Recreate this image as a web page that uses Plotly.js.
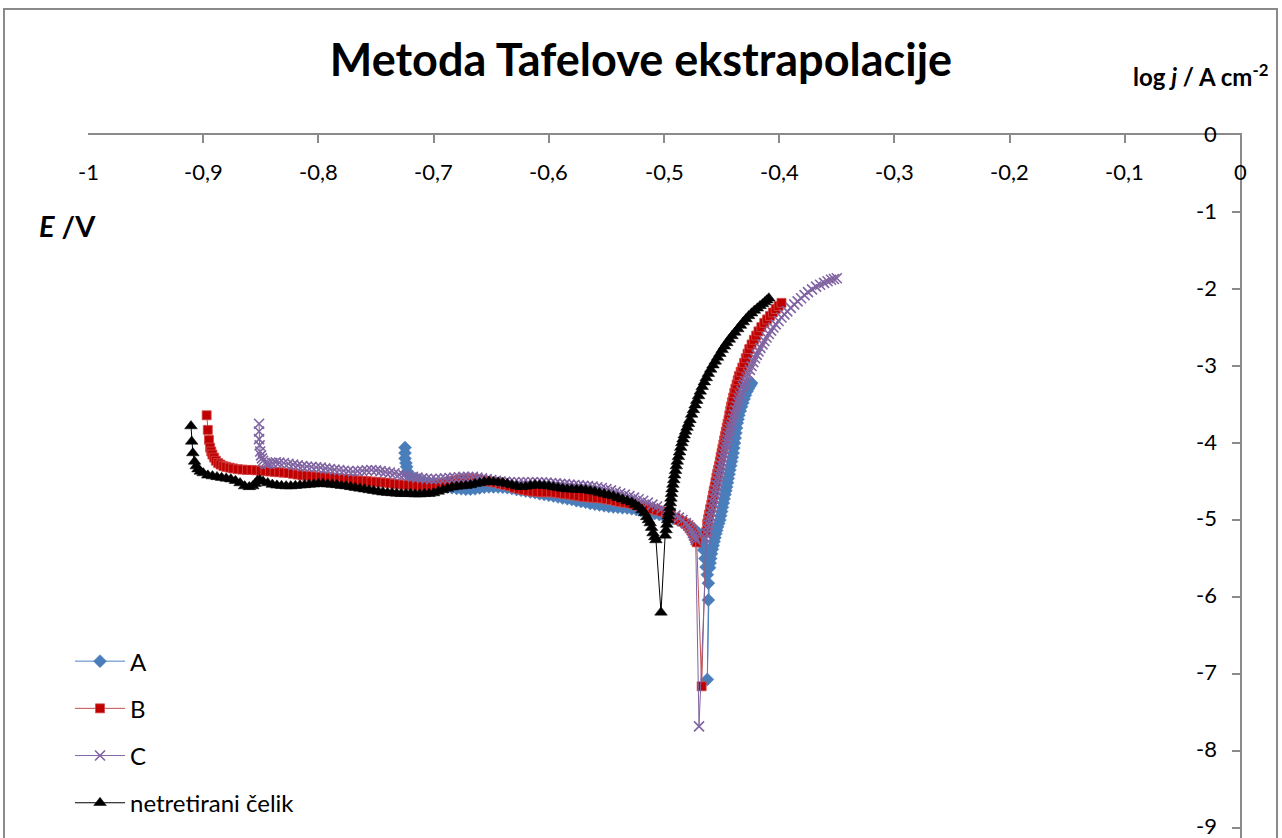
<!DOCTYPE html>
<html>
<head>
<meta charset="utf-8">
<script src="https://cdn.plot.ly/plotly-3.0.1.min.js"></script>
<style>
  html, body { margin: 0; padding: 0; background: #fff; overflow: hidden; }
  #wrap { position: relative; width: 1282px; height: 838px; }
  #chart { width: 1282px; height: 838px; }
  #frame { position: absolute; left: 3px; top: 8px; width: 1271px; height: 900px;
           border: 2px solid #8a8a8a; pointer-events: none; }
</style>
</head>
<body>
<div id="wrap"><div id="chart"></div><div id="frame"></div></div>
<script>
// ---- data: E / V (x) and log j / A cm-2 (y) ----
const seriesNames = ["A", "B", "C", "netretirani čelik"];

const aE = [-0.7248,-0.7248,-0.7248,-0.7240,-0.7234,-0.7228,-0.7222,-0.720,-0.716,-0.712,-0.708,-0.704,-0.700,-0.696,-0.692,-0.688,-0.684,-0.680,-0.676,-0.672,-0.668,-0.664,-0.660,-0.656,-0.652,-0.648,-0.644,-0.640,-0.636,-0.632,-0.628,-0.624,-0.620,-0.616,-0.612,-0.608,-0.604,-0.600,-0.596,-0.592,-0.588,-0.584,-0.580,-0.576,-0.572,-0.568,-0.564,-0.560,-0.556,-0.552,-0.548,-0.544,-0.540,-0.536,-0.532,-0.528,-0.524,-0.520,-0.516,-0.512,-0.508,-0.504,-0.500,-0.496,-0.492,-0.488,-0.485,-0.482,-0.479,-0.4755,-0.473,-0.4715,-0.470,-0.468,-0.4665,-0.4660,-0.4655,-0.4645,-0.4635,-0.4624,-0.4615,-0.4615,-0.4624,-0.4605,-0.4600,-0.4595,-0.4588,-0.4580,-0.4573,-0.4565,-0.4558,-0.455,-0.4543,-0.4535,-0.4525,-0.4515,-0.4508,-0.4500,-0.4493,-0.4485,-0.4478,-0.4470,-0.4463,-0.4456,-0.4449,-0.4442,-0.4435,-0.4428,-0.4421,-0.4414,-0.4407,-0.4400,-0.4394,-0.4388,-0.4382,-0.4376,-0.4370,-0.4364,-0.4357,-0.4350,-0.4338,-0.4327,-0.4316,-0.4305,-0.4293,-0.428,-0.4268,-0.4255,-0.4248,-0.424];
const aJ = [-4.06,-4.13,-4.20,-4.26,-4.31,-4.37,-4.41,-4.43,-4.46,-4.48,-4.50,-4.52,-4.535,-4.55,-4.56,-4.57,-4.58,-4.59,-4.595,-4.60,-4.60,-4.595,-4.585,-4.575,-4.57,-4.57,-4.57,-4.575,-4.58,-4.59,-4.605,-4.615,-4.625,-4.635,-4.645,-4.66,-4.67,-4.68,-4.69,-4.70,-4.715,-4.725,-4.735,-4.75,-4.76,-4.77,-4.785,-4.795,-4.805,-4.815,-4.825,-4.83,-4.835,-4.84,-4.845,-4.855,-4.865,-4.875,-4.89,-4.90,-4.915,-4.93,-4.95,-4.965,-4.98,-5.00,-5.02,-5.04,-5.065,-5.10,-5.13,-5.155,-5.18,-5.23,-5.28,-5.33,-5.39,-5.50,-5.61,-5.71,-5.82,-6.04,-7.07,-5.62,-5.56,-5.50,-5.44,-5.38,-5.33,-5.28,-5.23,-5.18,-5.135,-5.09,-5.045,-5.00,-4.945,-4.89,-4.835,-4.78,-4.725,-4.67,-4.62,-4.57,-4.515,-4.46,-4.405,-4.35,-4.295,-4.24,-4.185,-4.13,-4.065,-4.00,-3.935,-3.87,-3.805,-3.74,-3.69,-3.64,-3.585,-3.53,-3.48,-3.43,-3.38,-3.33,-3.295,-3.26,-3.24,-3.22];

const bE = [-0.897,-0.896,-0.895,-0.894,-0.893,-0.892,-0.8905,-0.889,-0.887,-0.885,-0.8825,-0.880,-0.877,-0.874,-0.870,-0.866,-0.862,-0.858,-0.854,-0.850,-0.846,-0.842,-0.838,-0.834,-0.830,-0.826,-0.822,-0.818,-0.814,-0.810,-0.806,-0.802,-0.798,-0.794,-0.790,-0.786,-0.782,-0.778,-0.774,-0.770,-0.766,-0.762,-0.758,-0.754,-0.750,-0.746,-0.742,-0.738,-0.734,-0.730,-0.726,-0.722,-0.718,-0.714,-0.710,-0.706,-0.702,-0.698,-0.694,-0.690,-0.686,-0.682,-0.678,-0.674,-0.670,-0.666,-0.662,-0.658,-0.654,-0.650,-0.646,-0.642,-0.638,-0.634,-0.630,-0.626,-0.622,-0.618,-0.614,-0.610,-0.606,-0.602,-0.598,-0.594,-0.590,-0.586,-0.582,-0.578,-0.574,-0.570,-0.566,-0.562,-0.558,-0.554,-0.550,-0.546,-0.542,-0.538,-0.534,-0.530,-0.526,-0.522,-0.518,-0.514,-0.510,-0.506,-0.502,-0.498,-0.494,-0.490,-0.487,-0.484,-0.481,-0.479,-0.4775,-0.476,-0.4748,-0.4735,-0.4725,-0.4716,-0.4673,-0.4635,-0.4625,-0.4617,-0.461,-0.460,-0.459,-0.4583,-0.4575,-0.4568,-0.456,-0.4553,-0.4545,-0.4538,-0.453,-0.4523,-0.4515,-0.4508,-0.450,-0.4493,-0.4485,-0.4478,-0.447,-0.4463,-0.4455,-0.4448,-0.444,-0.4433,-0.4425,-0.4418,-0.441,-0.440,-0.439,-0.438,-0.437,-0.436,-0.435,-0.4335,-0.432,-0.4305,-0.429,-0.4275,-0.426,-0.424,-0.422,-0.420,-0.418,-0.4155,-0.413,-0.4105,-0.408,-0.4055,-0.403,-0.4005,-0.398];
const bJ = [-3.64,-3.83,-3.96,-4.06,-4.11,-4.15,-4.19,-4.23,-4.26,-4.28,-4.30,-4.31,-4.32,-4.33,-4.34,-4.345,-4.35,-4.35,-4.355,-4.36,-4.365,-4.37,-4.375,-4.38,-4.385,-4.39,-4.40,-4.41,-4.42,-4.425,-4.43,-4.435,-4.44,-4.445,-4.45,-4.455,-4.46,-4.465,-4.47,-4.48,-4.485,-4.49,-4.495,-4.50,-4.505,-4.51,-4.515,-4.52,-4.53,-4.535,-4.54,-4.545,-4.55,-4.555,-4.56,-4.56,-4.555,-4.55,-4.53,-4.52,-4.50,-4.49,-4.48,-4.47,-4.47,-4.47,-4.475,-4.485,-4.495,-4.505,-4.515,-4.53,-4.545,-4.56,-4.58,-4.595,-4.61,-4.62,-4.63,-4.635,-4.64,-4.64,-4.64,-4.645,-4.655,-4.665,-4.67,-4.68,-4.69,-4.70,-4.705,-4.71,-4.715,-4.72,-4.73,-4.74,-4.755,-4.765,-4.775,-4.785,-4.80,-4.815,-4.83,-4.845,-4.86,-4.875,-4.89,-4.91,-4.94,-4.97,-5.00,-5.02,-5.05,-5.08,-5.11,-5.14,-5.175,-5.21,-5.25,-5.29,-7.16,-5.16,-5.05,-4.99,-4.93,-4.86,-4.80,-4.74,-4.68,-4.62,-4.57,-4.51,-4.45,-4.40,-4.35,-4.30,-4.24,-4.18,-4.13,-4.075,-4.02,-3.965,-3.91,-3.855,-3.80,-3.75,-3.70,-3.64,-3.58,-3.525,-3.47,-3.41,-3.35,-3.295,-3.24,-3.185,-3.13,-3.075,-3.02,-2.96,-2.90,-2.84,-2.78,-2.72,-2.66,-2.605,-2.55,-2.495,-2.44,-2.395,-2.35,-2.305,-2.26,-2.22,-2.18];

const cE = [-0.8515,-0.8515,-0.8515,-0.851,-0.8505,-0.8498,-0.849,-0.848,-0.8465,-0.845,-0.843,-0.840,-0.837,-0.834,-0.830,-0.826,-0.822,-0.818,-0.814,-0.810,-0.806,-0.802,-0.798,-0.794,-0.790,-0.786,-0.782,-0.778,-0.774,-0.770,-0.766,-0.762,-0.758,-0.754,-0.750,-0.746,-0.742,-0.738,-0.734,-0.730,-0.726,-0.722,-0.718,-0.714,-0.710,-0.706,-0.702,-0.698,-0.694,-0.690,-0.686,-0.682,-0.678,-0.674,-0.670,-0.666,-0.662,-0.658,-0.654,-0.650,-0.646,-0.642,-0.638,-0.634,-0.630,-0.626,-0.622,-0.618,-0.614,-0.610,-0.606,-0.602,-0.598,-0.594,-0.590,-0.586,-0.582,-0.578,-0.574,-0.570,-0.566,-0.562,-0.558,-0.554,-0.550,-0.546,-0.542,-0.538,-0.534,-0.530,-0.526,-0.522,-0.518,-0.514,-0.510,-0.506,-0.502,-0.498,-0.494,-0.490,-0.487,-0.484,-0.481,-0.479,-0.4775,-0.476,-0.475,-0.474,-0.473,-0.4725,-0.4696,-0.4635,-0.4628,-0.462,-0.4612,-0.4605,-0.4596,-0.4587,-0.4578,-0.457,-0.4562,-0.4555,-0.4548,-0.454,-0.4532,-0.4525,-0.4518,-0.451,-0.4502,-0.4495,-0.4488,-0.448,-0.4472,-0.4465,-0.4458,-0.445,-0.4442,-0.4435,-0.4428,-0.442,-0.441,-0.440,-0.439,-0.438,-0.437,-0.436,-0.435,-0.434,-0.4328,-0.4315,-0.4305,-0.4295,-0.4283,-0.427,-0.4255,-0.424,-0.4225,-0.421,-0.4195,-0.418,-0.4163,-0.4145,-0.4128,-0.411,-0.409,-0.407,-0.405,-0.403,-0.4005,-0.398,-0.3955,-0.393,-0.390,-0.387,-0.384,-0.381,-0.378,-0.375,-0.3715,-0.368,-0.3645,-0.361,-0.358,-0.355,-0.3525,-0.350];
const cJ = [-3.75,-3.85,-3.95,-4.03,-4.11,-4.16,-4.20,-4.23,-4.26,-4.27,-4.27,-4.26,-4.25,-4.255,-4.26,-4.27,-4.28,-4.29,-4.30,-4.305,-4.31,-4.315,-4.32,-4.33,-4.34,-4.345,-4.35,-4.36,-4.365,-4.37,-4.365,-4.36,-4.355,-4.35,-4.355,-4.365,-4.375,-4.385,-4.395,-4.41,-4.42,-4.43,-4.44,-4.45,-4.46,-4.465,-4.47,-4.47,-4.465,-4.46,-4.455,-4.45,-4.445,-4.44,-4.44,-4.44,-4.45,-4.46,-4.47,-4.48,-4.49,-4.50,-4.505,-4.51,-4.51,-4.51,-4.51,-4.51,-4.51,-4.51,-4.51,-4.515,-4.52,-4.525,-4.53,-4.535,-4.54,-4.545,-4.55,-4.555,-4.56,-4.565,-4.575,-4.585,-4.60,-4.615,-4.635,-4.655,-4.67,-4.69,-4.71,-4.73,-4.75,-4.775,-4.80,-4.825,-4.85,-4.88,-4.91,-4.94,-4.97,-5.00,-5.04,-5.07,-5.10,-5.13,-5.165,-5.20,-5.23,-5.26,-7.68,-5.24,-5.18,-5.12,-5.065,-5.01,-4.955,-4.90,-4.84,-4.78,-4.72,-4.66,-4.605,-4.55,-4.495,-4.44,-4.39,-4.34,-4.29,-4.24,-4.19,-4.14,-4.09,-4.04,-3.995,-3.95,-3.905,-3.86,-3.82,-3.78,-3.73,-3.68,-3.625,-3.57,-3.52,-3.47,-3.425,-3.38,-3.325,-3.27,-3.235,-3.20,-3.15,-3.10,-3.05,-3.00,-2.95,-2.90,-2.855,-2.81,-2.765,-2.72,-2.675,-2.63,-2.585,-2.54,-2.50,-2.46,-2.415,-2.37,-2.33,-2.29,-2.245,-2.20,-2.16,-2.12,-2.08,-2.04,-2.005,-1.97,-1.945,-1.92,-1.90,-1.88,-1.87,-1.86];

const sE = [-0.9106,-0.9100,-0.9090,-0.9075,-0.9060,-0.9045,-0.9025,-0.900,-0.896,-0.892,-0.888,-0.884,-0.880,-0.876,-0.872,-0.868,-0.864,-0.860,-0.857,-0.855,-0.853,-0.851,-0.848,-0.844,-0.840,-0.836,-0.832,-0.828,-0.824,-0.820,-0.816,-0.812,-0.808,-0.804,-0.800,-0.796,-0.792,-0.788,-0.784,-0.780,-0.776,-0.772,-0.768,-0.764,-0.760,-0.756,-0.752,-0.748,-0.744,-0.740,-0.736,-0.732,-0.728,-0.724,-0.720,-0.716,-0.712,-0.708,-0.704,-0.700,-0.696,-0.692,-0.688,-0.684,-0.680,-0.676,-0.672,-0.668,-0.664,-0.660,-0.656,-0.652,-0.648,-0.644,-0.640,-0.636,-0.632,-0.628,-0.624,-0.620,-0.616,-0.612,-0.608,-0.604,-0.600,-0.596,-0.592,-0.588,-0.584,-0.580,-0.576,-0.572,-0.568,-0.564,-0.560,-0.556,-0.552,-0.548,-0.544,-0.540,-0.536,-0.532,-0.528,-0.525,-0.522,-0.519,-0.517,-0.515,-0.5135,-0.512,-0.5108,-0.5095,-0.508,-0.507,-0.5026,-0.4990,-0.4982,-0.4975,-0.4968,-0.4962,-0.4956,-0.4950,-0.4945,-0.4940,-0.4935,-0.4930,-0.4923,-0.4915,-0.4908,-0.4900,-0.4893,-0.4885,-0.4875,-0.4865,-0.4855,-0.4845,-0.4835,-0.4825,-0.4813,-0.4800,-0.4788,-0.4775,-0.4760,-0.4745,-0.4730,-0.4716,-0.4700,-0.4685,-0.4668,-0.4650,-0.4633,-0.4615,-0.4595,-0.4575,-0.4555,-0.4535,-0.4515,-0.4495,-0.4475,-0.4455,-0.4433,-0.4410,-0.4385,-0.4360,-0.4336,-0.4312,-0.4288,-0.4265,-0.4240,-0.4215,-0.4190,-0.4167,-0.4145,-0.4125,-0.4108,-0.4090];
const sJ = [-3.78,-3.98,-4.13,-4.24,-4.30,-4.34,-4.37,-4.39,-4.42,-4.43,-4.44,-4.45,-4.46,-4.47,-4.49,-4.52,-4.56,-4.57,-4.56,-4.53,-4.49,-4.48,-4.50,-4.52,-4.54,-4.55,-4.555,-4.56,-4.56,-4.555,-4.55,-4.545,-4.54,-4.535,-4.53,-4.53,-4.535,-4.54,-4.545,-4.555,-4.56,-4.57,-4.58,-4.59,-4.60,-4.61,-4.62,-4.63,-4.64,-4.645,-4.65,-4.655,-4.66,-4.66,-4.66,-4.665,-4.665,-4.66,-4.66,-4.65,-4.63,-4.61,-4.59,-4.575,-4.565,-4.56,-4.555,-4.545,-4.53,-4.52,-4.505,-4.50,-4.505,-4.51,-4.515,-4.53,-4.545,-4.56,-4.57,-4.565,-4.555,-4.545,-4.55,-4.555,-4.56,-4.57,-4.58,-4.59,-4.60,-4.60,-4.605,-4.605,-4.61,-4.62,-4.63,-4.645,-4.66,-4.675,-4.69,-4.71,-4.73,-4.75,-4.77,-4.80,-4.83,-4.87,-4.91,-4.96,-5.00,-5.04,-5.10,-5.17,-5.22,-5.26,-6.20,-5.20,-5.13,-5.06,-5.00,-4.95,-4.90,-4.84,-4.78,-4.72,-4.66,-4.60,-4.54,-4.48,-4.42,-4.36,-4.30,-4.24,-4.18,-4.12,-4.06,-4.00,-3.95,-3.90,-3.85,-3.80,-3.75,-3.70,-3.63,-3.57,-3.51,-3.45,-3.39,-3.33,-3.27,-3.21,-3.155,-3.10,-3.045,-2.99,-2.94,-2.89,-2.84,-2.79,-2.745,-2.70,-2.655,-2.61,-2.565,-2.52,-2.475,-2.43,-2.39,-2.35,-2.315,-2.28,-2.25,-2.22,-2.195,-2.17,-2.145,-2.12];

// ---- tick labels ----
const xTickVals = [-1,-0.9,-0.8,-0.7,-0.6,-0.5,-0.4,-0.3,-0.2,-0.1,0];
const xTickText = ["-1","-0,9","-0,8","-0,7","-0,6","-0,5","-0,4","-0,3","-0,2","-0,1","0"];
const yTickVals = [0,-1,-2,-3,-4,-5,-6,-7,-8,-9];
const yTickText = ["0","-1","-2","-3","-4","-5","-6","-7","-8","-9"];

const FONT = "Lato, 'Open Sans', 'Liberation Sans', sans-serif";
const TICKFONT = { family: FONT, size: 22, color: "#000" };

function tr(i, x, y, lineColor, mk) {
  return {
    type: "scatter", mode: "lines+markers", name: seriesNames[i],
    legendgroup: "g" + i, x: x, y: y,
    line: { color: lineColor, width: 1 },
    marker: mk, cliponaxis: false
  };
}

const traces = [
  tr(0, aE, aJ, "#4F81BD", { symbol: "diamond", size: 10, color: "#4A7EBB", line: { width: 0.5, color: "#4A7EBB" } }),
  tr(1, bE, bJ, "#C0504D", { symbol: "square", size: 9, color: "#C00000", line: { width: 0.8, color: "#D04A4A" } }),
  tr(2, cE, cJ, "#8064A2", { symbol: "x-thin-open", size: 10, color: "#8064A2", line: { width: 1.6, color: "#8064A2" } }),
  tr(3, sE, sJ, "#000000", { symbol: "triangle-up", size: 11, color: "#000000", line: { width: 0.5, color: "#000" } })
];

// tick labels drawn as annotations positioned by the axes' own scales
const tickAnns = [];
xTickVals.forEach((v, k) => tickAnns.push({
  text: xTickText[k], x: v, xref: "x", y: 1, yref: "paper",
  xanchor: "center", yanchor: "middle", yshift: -36, showarrow: false, font: TICKFONT
}));
yTickVals.forEach((v, k) => tickAnns.push({
  text: yTickText[k], x: 1, xref: "paper", y: v, yref: "y",
  xanchor: "right", yanchor: "middle", xshift: -22, yshift: 2, showarrow: false,
  borderpad: 0, font: TICKFONT
}));

const layout = {
  width: 1282, height: 838,
  margin: { l: 88, r: 42, t: 135, b: 0, pad: 0 },
  paper_bgcolor: "#ffffff", plot_bgcolor: "rgba(0,0,0,0)",
  font: { family: FONT, size: 22, color: "#000" },
  separators: ", ",
  title: {
    text: "<b>Metoda Tafelove ekstrapolacije</b>",
    font: { family: FONT, size: 45, color: "#000" },
    x: 0.5, xref: "container", xanchor: "center",
    y: 1 - 60 / 838, yref: "container", yanchor: "middle"
  },
  showlegend: true,
  legend: {
    x: -0.0156, xanchor: "left", y: 0.283, yanchor: "top",
    bgcolor: "rgba(0,0,0,0)", borderwidth: 0,
    font: { family: FONT, size: 24, color: "#000" },
    tracegroupgap: 13, itemwidth: 50, traceorder: "grouped"
  },
  xaxis: {
    range: [-1, 0], side: "top", autorange: false,
    tickvals: xTickVals, showticklabels: false,
    ticks: "inside", ticklen: 8, tickwidth: 2, tickcolor: "#8a8a8a",
    showline: true, linecolor: "#8a8a8a", linewidth: 2,
    showgrid: false, zeroline: false
  },
  yaxis: {
    range: [-9.13, 0], side: "right", autorange: false,
    tickvals: yTickVals, showticklabels: false,
    ticks: "inside", ticklen: 8, tickwidth: 2, tickcolor: "#8a8a8a",
    showline: true, linecolor: "#8a8a8a", linewidth: 2,
    showgrid: false, zeroline: false
  },
  annotations: tickAnns.concat([
    { text: "<b>log <i>j</i> / A cm<sup>-2</sup></b>", xref: "paper", yref: "paper",
      x: 1.026, y: 1.0853, xanchor: "right", yanchor: "middle", showarrow: false,
      font: { family: FONT, size: 24, color: "#000" } },
    { text: "<b><i>E</i> /V</b>", xref: "paper", yref: "paper",
      x: -0.0443, y: 0.8706, xanchor: "left", yanchor: "middle", showarrow: false,
      font: { family: FONT, size: 29, color: "#000" } }
  ])
};

Plotly.newPlot("chart", traces, layout, { staticPlot: true, displayModeBar: false });
</script>
</body>
</html>
